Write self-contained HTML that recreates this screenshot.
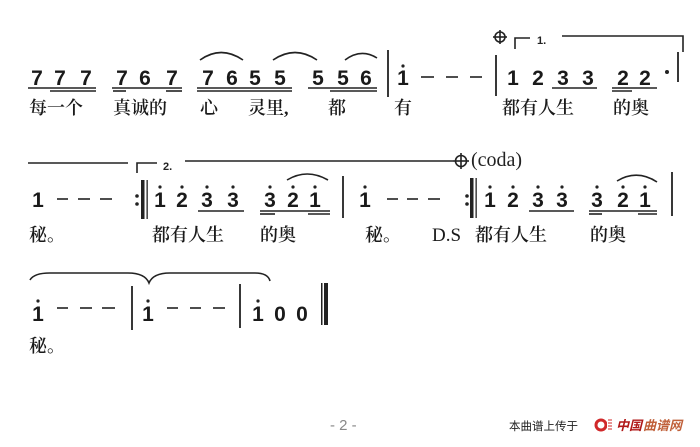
<!DOCTYPE html>
<html><head><meta charset="utf-8"><style>
html,body{margin:0;padding:0;background:#fff;}
svg{display:block;}
.n{font-family:"Liberation Sans",sans-serif;font-weight:bold;font-size:21px;fill:#1a1a1a;text-anchor:middle;}
.l{font-family:"Liberation Serif","Noto Serif CJK SC",serif;font-weight:600;font-size:18px;fill:#1a1a1a;}
.s{fill:none;stroke:#222;stroke-width:1.6;}
.u{stroke:#222;stroke-width:1.6;}
</style></head><body>
<svg width="700" height="447" viewBox="0 0 700 447" xmlns="http://www.w3.org/2000/svg">
<!-- ROW 1 -->
<g class="n">
<text x="37" y="85">7</text><text x="60" y="85">7</text><text x="86" y="85">7</text>
<text x="122" y="85">7</text><text x="145" y="85">6</text><text x="172" y="85">7</text>
<text x="208" y="85">7</text><text x="232" y="85">6</text><text x="255" y="85">5</text><text x="280" y="85">5</text>
<text x="318" y="85">5</text><text x="343" y="85">5</text><text x="366" y="85">6</text>
<text x="403" y="85">1</text>
<text x="513" y="85">1</text><text x="538" y="85">2</text><text x="563" y="85">3</text><text x="588" y="85">3</text>
<text x="623" y="85">2</text><text x="645" y="85">2</text>
</g>
<circle cx="403" cy="66" r="1.6" fill="#222"/>
<circle cx="667" cy="72" r="2" fill="#222"/>
<g class="u">
<line x1="28" y1="88" x2="96" y2="88"/><line x1="50" y1="91" x2="96" y2="91"/>
<line x1="112" y1="88" x2="182" y2="88"/><line x1="113" y1="91" x2="126" y2="91"/><line x1="166" y1="91" x2="182" y2="91"/>
<line x1="197" y1="88" x2="292" y2="88"/><line x1="197" y1="91" x2="292" y2="91"/>
<line x1="308" y1="88" x2="377" y2="88"/><line x1="330" y1="91" x2="377" y2="91"/>
<line x1="421" y1="77" x2="434" y2="77"/><line x1="446" y1="77" x2="458" y2="77"/><line x1="470" y1="77" x2="482" y2="77"/>
<line x1="552" y1="88" x2="597" y2="88"/>
<line x1="612" y1="88" x2="657" y2="88"/><line x1="612" y1="91" x2="632" y2="91"/>
</g>
<line x1="388" y1="50" x2="388" y2="97" stroke="#222" stroke-width="1.8"/>
<line x1="496" y1="55" x2="496" y2="96" stroke="#222" stroke-width="1.8"/>
<line x1="678" y1="52" x2="678" y2="82" stroke="#222" stroke-width="1.8"/>
<path class="s" d="M200 60 Q221 45 243 60"/>
<path class="s" d="M273 60 Q295 45 317 60"/>
<path class="s" d="M345 60 Q361 48 377 58"/>
<circle cx="500" cy="37" r="5" class="s"/><line x1="493" y1="37" x2="507" y2="37" class="u" stroke-width="1.2"/><line x1="500" y1="30" x2="500" y2="44" class="u" stroke-width="1.2"/>
<path class="s" d="M515 49 V38 H530"/>
<text x="537" y="44" style="font-family:'Liberation Sans',sans-serif;font-weight:bold;font-size:11px;fill:#222">1.</text>
<path class="s" d="M562 36 H683 V52"/>
<g class="l">
<text x="29" y="114">每一个</text><text x="113" y="114">真诚的</text><text x="200" y="114">心</text>
<text x="248" y="114">灵里,</text><text x="328" y="114">都</text><text x="394" y="114">有</text>
<text x="502" y="114">都有人生</text><text x="613" y="114">的奥</text>
</g>
<!-- ROW 2 -->
<line x1="28" y1="163" x2="128" y2="163" class="u"/>
<path class="s" d="M137 173 V163 H157"/>
<text x="163" y="170" style="font-family:'Liberation Sans',sans-serif;font-weight:bold;font-size:11px;fill:#222">2.</text>
<line x1="185" y1="161" x2="453" y2="161" class="u"/>
<circle cx="461" cy="161" r="5.5" class="s"/><line x1="453" y1="161" x2="469" y2="161" class="u" stroke-width="1.3"/><line x1="461" y1="153" x2="461" y2="169" class="u" stroke-width="1.3"/>
<text x="471" y="166" style="font-family:'Liberation Serif',serif;font-size:20px;fill:#222">(coda)</text>
<g class="n">
<text x="38" y="207">1</text>
<text x="160" y="207">1</text><text x="182" y="207">2</text><text x="207" y="207">3</text><text x="233" y="207">3</text>
<text x="270" y="207">3</text><text x="293" y="207">2</text><text x="315" y="207">1</text>
<text x="365" y="207">1</text>
<text x="490" y="207">1</text><text x="513" y="207">2</text><text x="538" y="207">3</text><text x="562" y="207">3</text>
<text x="597" y="207">3</text><text x="623" y="207">2</text><text x="645" y="207">1</text>
</g>
<g fill="#222">
<circle cx="160" cy="187" r="1.6"/><circle cx="182" cy="187" r="1.6"/><circle cx="207" cy="187" r="1.6"/><circle cx="233" cy="187" r="1.6"/>
<circle cx="270" cy="187" r="1.6"/><circle cx="293" cy="187" r="1.6"/><circle cx="315" cy="187" r="1.6"/>
<circle cx="365" cy="187" r="1.6"/>
<circle cx="490" cy="187" r="1.6"/><circle cx="513" cy="187" r="1.6"/><circle cx="538" cy="187" r="1.6"/><circle cx="562" cy="187" r="1.6"/>
<circle cx="597" cy="187" r="1.6"/><circle cx="623" cy="187" r="1.6"/><circle cx="645" cy="187" r="1.6"/>
<circle cx="137" cy="196" r="1.8"/><circle cx="137" cy="204" r="1.8"/>
<circle cx="467" cy="196" r="1.8"/><circle cx="467" cy="204" r="1.8"/>
</g>
<g class="u">
<line x1="57" y1="199" x2="68" y2="199"/><line x1="78" y1="199" x2="90" y2="199"/><line x1="100" y1="199" x2="112" y2="199"/>
<line x1="198" y1="211" x2="244" y2="211"/>
<line x1="260" y1="211" x2="330" y2="211"/><line x1="260" y1="214" x2="275" y2="214"/><line x1="308" y1="214" x2="330" y2="214"/>
<line x1="387" y1="199" x2="398" y2="199"/><line x1="407" y1="199" x2="418" y2="199"/><line x1="428" y1="199" x2="440" y2="199"/>
<line x1="529" y1="211" x2="574" y2="211"/>
<line x1="589" y1="211" x2="657" y2="211"/><line x1="589" y1="214" x2="602" y2="214"/><line x1="638" y1="214" x2="657" y2="214"/>
</g>
<rect x="141" y="180" width="3.5" height="39" fill="#222"/><rect x="146.5" y="180" width="1.3" height="39" fill="#222"/>
<rect x="470" y="178" width="3.5" height="40" fill="#222"/><rect x="475.5" y="178" width="1.3" height="40" fill="#222"/>
<line x1="343" y1="176" x2="343" y2="218" stroke="#222" stroke-width="1.8"/>
<line x1="672" y1="172" x2="672" y2="216" stroke="#222" stroke-width="1.8"/>
<path class="s" d="M287 180 Q307 168 328 180"/>
<path class="s" d="M617 181 Q637 169 657 182"/>
<g class="l">
<text x="29" y="241">秘。</text><text x="152" y="241">都有人生</text><text x="260" y="241">的奥</text>
<text x="365" y="241">秘。</text>
<text x="432" y="241" style="font-family:'Liberation Serif',serif;font-weight:normal;font-size:19px">D.S</text>
<text x="475" y="241">都有人生</text><text x="590" y="241">的奥</text>
</g>
<!-- ROW 3 -->
<path class="s" d="M30 280 Q34 273 50 273 H128 Q145 273 149 283 Q153 273 170 273 H255 Q268 273 270 281"/>
<g class="n">
<text x="38" y="321">1</text><text x="148" y="321">1</text>
<text x="258" y="321">1</text><text x="280" y="321">0</text><text x="302" y="321">0</text>
</g>
<g fill="#222"><circle cx="38" cy="301" r="1.6"/><circle cx="148" cy="301" r="1.6"/><circle cx="258" cy="301" r="1.6"/></g>
<g class="u">
<line x1="57" y1="308" x2="68" y2="308"/><line x1="80" y1="308" x2="92" y2="308"/><line x1="102" y1="308" x2="115" y2="308"/>
<line x1="167" y1="308" x2="178" y2="308"/><line x1="190" y1="308" x2="201" y2="308"/><line x1="213" y1="308" x2="225" y2="308"/>
</g>
<line x1="132" y1="286" x2="132" y2="330" stroke="#222" stroke-width="1.8"/>
<line x1="240" y1="284" x2="240" y2="328" stroke="#222" stroke-width="1.8"/>
<rect x="321" y="283" width="1.5" height="42" fill="#222"/><rect x="324" y="283" width="4" height="42" fill="#222"/>
<text x="29" y="352" class="l">秘。</text>
<!-- footer -->
<text x="330" y="430" style="font-family:'Liberation Sans',sans-serif;font-size:15px;fill:#888">- 2 -</text>
<text x="509" y="430" style="font-family:'Liberation Sans','Noto Sans CJK SC',sans-serif;font-size:11.5px;fill:#222">本曲谱上传于</text>
<circle cx="601" cy="425" r="5" fill="none" stroke="#d0282a" stroke-width="3"/>
<rect x="607" y="419" width="4" height="12" fill="#fff"/>
<g stroke="#d0282a" stroke-width="1"><line x1="608" y1="420" x2="612" y2="420"/><line x1="608" y1="423" x2="612" y2="423"/><line x1="608" y1="426" x2="612" y2="426"/><line x1="608" y1="429" x2="612" y2="429"/></g>
<text x="616" y="430" style="font-family:'Noto Sans CJK SC',sans-serif;font-weight:bold;font-style:italic;font-size:13px;fill:#b01818">中国</text>
<text x="643" y="430" style="font-family:'Noto Sans CJK SC',sans-serif;font-weight:bold;font-style:italic;font-size:13px;fill:#c0603a">曲谱网</text>
</svg>
</body></html>
